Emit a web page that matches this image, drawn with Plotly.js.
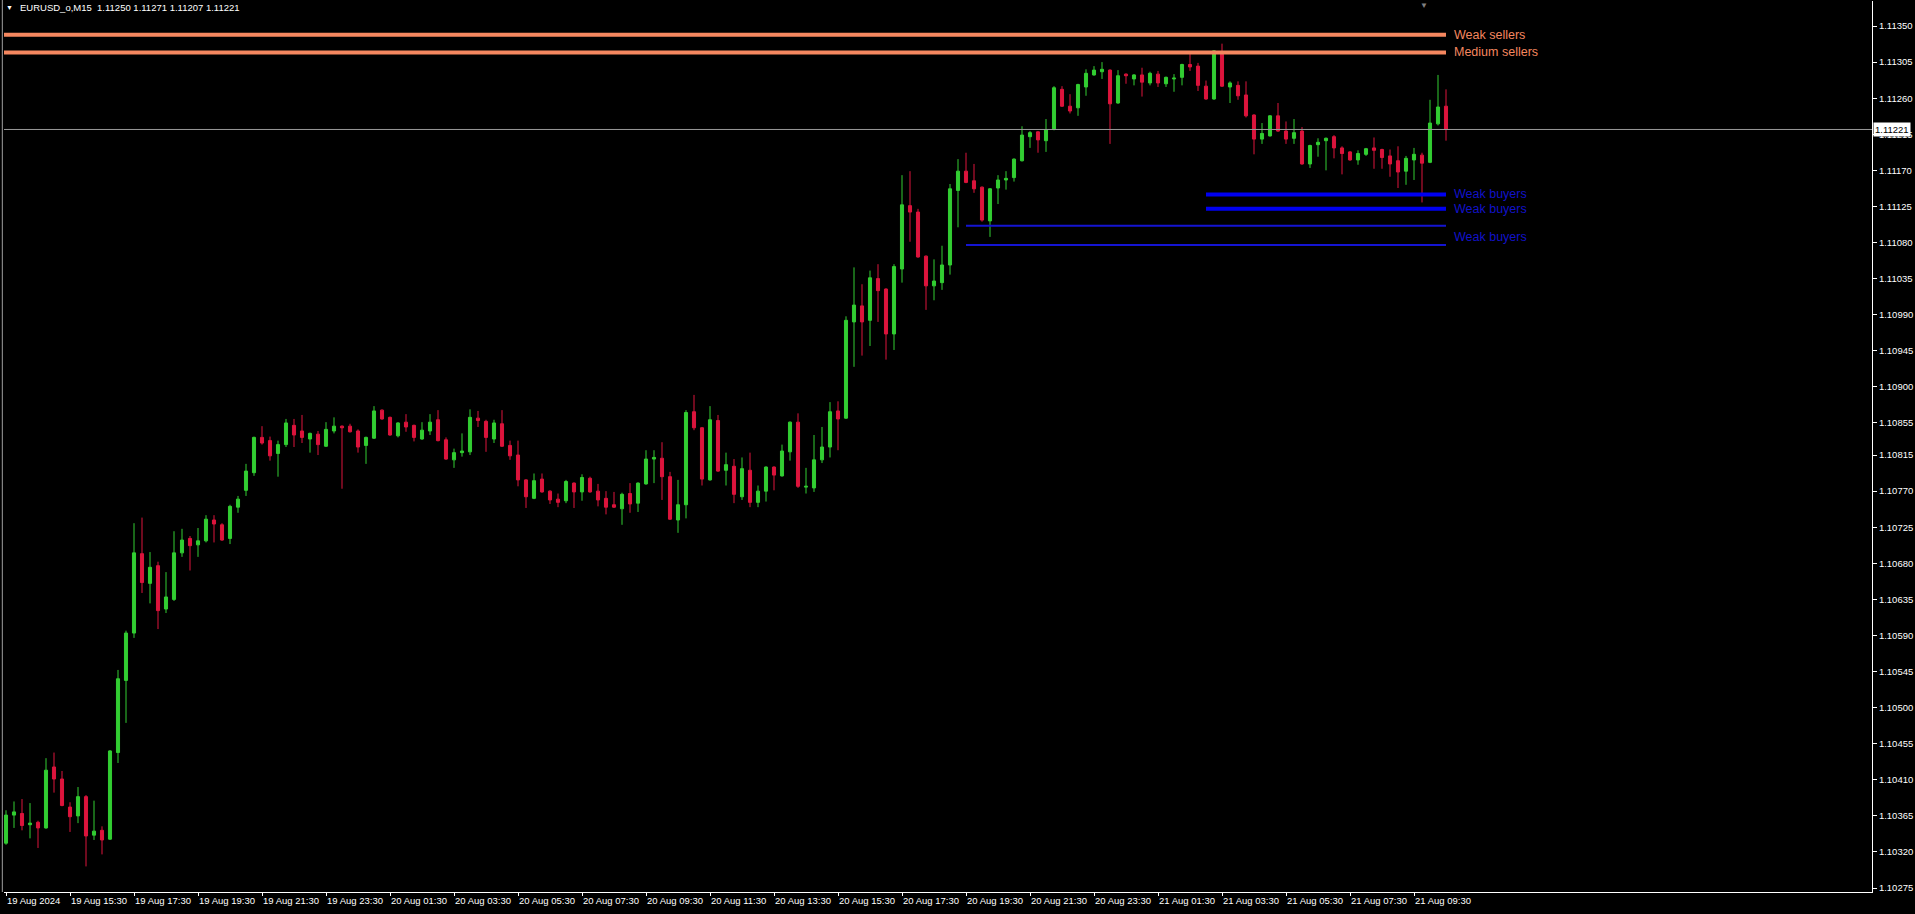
<!DOCTYPE html>
<html>
<head>
<meta charset="utf-8">
<script src="https://cdn.plot.ly/plotly-3.0.1.min.js"></script>
<style>
  html, body { margin: 0; padding: 0; background: #000; }
  #chart { width: 1915px; height: 914px; }
</style>
</head>
<body>
<div id="chart"></div>
<script>
// ---- DATA ----
const symbol = "EURUSD_o";
const timeframe = "M15";

const open = [
1.10331,1.10366,1.10368,1.10354,1.10357,1.10350,1.10426,1.10411,1.10376,1.10365,
1.10389,1.10341,1.10347,1.10336,1.10444,1.10534,1.10593,1.10692,1.10655,1.10677,
1.10623,1.10635,1.10693,1.10711,1.10703,1.10708,1.10734,1.10728,1.10711,1.10750,
1.10771,1.10793,1.10837,1.10833,1.10817,1.10828,1.10852,1.10845,1.10835,1.10841,
1.10826,1.10845,1.10851,1.10851,1.10845,1.10827,1.10836,1.10871,1.10862,1.10839,
1.10856,1.10852,1.10835,1.10845,1.10859,1.10834,1.10809,1.10818,1.10819,1.10861,
1.10857,1.10835,1.10854,1.10827,1.10815,1.10784,1.10761,1.10785,1.10770,1.10760,
1.10758,1.10780,1.10769,1.10786,1.10770,1.10761,1.10753,1.10748,1.10767,1.10755,
1.10779,1.10810,1.10811,1.10788,1.10734,1.10753,1.10869,1.10849,1.10784,1.10858,
1.10796,1.10801,1.10763,1.10796,1.10756,1.10770,1.10800,1.10789,1.10819,1.10856,
1.10775,1.10774,1.10809,1.10825,1.10870,1.10861,1.10981,1.11001,1.10983,1.11035,
1.11022,1.10966,1.11047,1.11126,1.11118,1.11063,1.11026,1.11030,1.11052,1.11145,
1.11169,1.11157,1.11149,1.11107,1.11148,1.11158,1.11161,1.11182,1.11212,1.11218,
1.11207,1.11221,1.11271,1.11250,1.11248,1.11274,1.11289,1.11293,1.11295,1.11254,
1.11290,1.11284,1.11289,1.11279,1.11290,1.11278,1.11284,1.11286,1.11302,1.11300,
1.11275,1.11259,1.11318,1.11274,1.11276,1.11264,1.11239,1.11209,1.11213,1.11238,
1.11219,1.11210,1.11219,1.11178,1.11202,1.11207,1.11212,1.11198,1.11193,1.11183,
1.11190,1.11198,1.11196,1.11188,1.11182,1.11169,1.11183,1.11189,1.11180,1.11228,
1.11250];
const high = [
1.10372,1.10383,1.10386,1.10381,1.10359,1.10437,1.10444,1.10421,1.10382,1.10401,
1.10391,1.10384,1.10352,1.10447,1.10547,1.10596,1.10730,1.10737,1.10694,1.10682,
1.10669,1.10720,1.10723,1.10714,1.10724,1.10740,1.10740,1.10730,1.10753,1.10764,
1.10804,1.10838,1.10851,1.10838,1.10833,1.10860,1.10860,1.10865,1.10843,1.10845,
1.10856,1.10862,1.10852,1.10854,1.10847,1.10838,1.10876,1.10872,1.10863,1.10856,
1.10866,1.10853,1.10856,1.10866,1.10871,1.10837,1.10823,1.10842,1.10872,1.10870,
1.10859,1.10859,1.10871,1.10833,1.10833,1.10785,1.10792,1.10792,1.10771,1.10767,
1.10784,1.10781,1.10791,1.10788,1.10779,1.10770,1.10769,1.10768,1.10780,1.10781,
1.10821,1.10821,1.10831,1.10794,1.10784,1.10871,1.10890,1.10850,1.10876,1.10865,
1.10818,1.10810,1.10812,1.10818,1.10777,1.10801,1.10801,1.10828,1.10857,1.10867,
1.10799,1.10840,1.10850,1.10881,1.10882,1.10988,1.11049,1.11028,1.11045,1.11053,
1.11023,1.11053,1.11164,1.11169,1.11122,1.11064,1.11059,1.11076,1.11153,1.11184,
1.11192,1.11178,1.11150,1.11148,1.11164,1.11169,1.11185,1.11225,1.11219,1.11219,
1.11234,1.11275,1.11275,1.11265,1.11278,1.11296,1.11300,1.11305,1.11296,1.11295,
1.11291,1.11290,1.11298,1.11293,1.11294,1.11287,1.11290,1.11303,1.11315,1.11304,
1.11282,1.11320,1.11328,1.11281,1.11281,1.11281,1.11240,1.11229,1.11239,1.11254,
1.11231,1.11234,1.11224,1.11202,1.11210,1.11211,1.11214,1.11200,1.11194,1.11195,
1.11198,1.11211,1.11197,1.11196,1.11200,1.11188,1.11198,1.11192,1.11258,1.11289,
1.11271];
const low = [
1.10329,1.10350,1.10347,1.10337,1.10325,1.10349,1.10394,1.10377,1.10345,1.10356,
1.10302,1.10335,1.10317,1.10335,1.10431,1.10481,1.10587,1.10643,1.10630,1.10598,
1.10618,1.10633,1.10688,1.10671,1.10688,1.10706,1.10706,1.10708,1.10704,1.10743,
1.10764,1.10789,1.10828,1.10808,1.10788,1.10825,1.10825,1.10830,1.10818,1.10815,
1.10825,1.10842,1.10773,1.10843,1.10818,1.10804,1.10835,1.10859,1.10839,1.10837,
1.10844,1.10832,1.10834,1.10840,1.10832,1.10809,1.10799,1.10813,1.10815,1.10850,
1.10819,1.10830,1.10825,1.10809,1.10776,1.10749,1.10760,1.10768,1.10754,1.10750,
1.10755,1.10749,1.10758,1.10768,1.10751,1.10741,1.10749,1.10728,1.10743,1.10744,
1.10778,1.10780,1.10759,1.10734,1.10718,1.10736,1.10846,1.10777,1.10783,1.10794,
1.10777,1.10755,1.10759,1.10750,1.10750,1.10757,1.10771,1.10788,1.10808,1.10774,
1.10767,1.10769,1.10805,1.10812,1.10821,1.10860,1.10925,1.10939,1.10951,1.10981,
1.10934,1.10946,1.11030,1.11081,1.11061,1.10996,1.11008,1.11021,1.11040,1.11099,
1.11154,1.11142,1.11106,1.11087,1.11128,1.11146,1.11156,1.11181,1.11198,1.11192,
1.11193,1.11220,1.11249,1.11241,1.11238,1.11263,1.11288,1.11284,1.11203,1.11253,
1.11278,1.11276,1.11262,1.11276,1.11274,1.11274,1.11268,1.11276,1.11294,1.11269,
1.11258,1.11258,1.11274,1.11254,1.11258,1.11236,1.11190,1.11203,1.11212,1.11218,
1.11203,1.11203,1.11177,1.11173,1.11187,1.11170,1.11185,1.11165,1.11182,1.11177,
1.11188,1.11172,1.11172,1.11162,1.11148,1.11152,1.11158,1.11130,1.11179,1.11226,
1.11207];
const close = [
1.10366,1.10370,1.10353,1.10356,1.10350,1.10422,1.10411,1.10378,1.10364,1.10389,
1.10340,1.10346,1.10335,1.10446,1.10536,1.10593,1.10693,1.10656,1.10675,1.10621,
1.10638,1.10693,1.10709,1.10702,1.10708,1.10735,1.10729,1.10709,1.10751,1.10760,
1.10795,1.10837,1.10830,1.10814,1.10828,1.10855,1.10840,1.10837,1.10842,1.10828,
1.10847,1.10851,1.10849,1.10844,1.10825,1.10837,1.10870,1.10860,1.10840,1.10855,
1.10850,1.10837,1.10846,1.10856,1.10833,1.10810,1.10818,1.10820,1.10862,1.10858,
1.10837,1.10855,1.10826,1.10814,1.10784,1.10763,1.10783,1.10769,1.10759,1.10756,
1.10782,1.10769,1.10787,1.10769,1.10759,1.10750,1.10750,1.10766,1.10754,1.10780,
1.10810,1.10812,1.10788,1.10735,1.10753,1.10868,1.10849,1.10785,1.10859,1.10795,
1.10803,1.10766,1.10798,1.10756,1.10770,1.10800,1.10790,1.10820,1.10856,1.10776,
1.10776,1.10809,1.10825,1.10869,1.10860,1.10983,1.11002,1.10981,1.11036,1.11020,
1.10966,1.11050,1.11127,1.11118,1.11062,1.11026,1.11032,1.11052,1.11147,1.11169,
1.11155,1.11147,1.11108,1.11147,1.11158,1.11160,1.11184,1.11214,1.11217,1.11208,
1.11221,1.11273,1.11250,1.11244,1.11277,1.11291,1.11295,1.11296,1.11253,1.11288,
1.11288,1.11289,1.11280,1.11291,1.11279,1.11286,1.11285,1.11302,1.11299,1.11276,
1.11259,1.11319,1.11275,1.11279,1.11263,1.11238,1.11209,1.11216,1.11238,1.11219,
1.11209,1.11217,1.11178,1.11201,1.11205,1.11210,1.11198,1.11191,1.11183,1.11191,
1.11197,1.11195,1.11186,1.11178,1.11168,1.11185,1.11190,1.11179,1.11229,1.11249,
1.11221];

// time-axis labels and the bar index they belong to
const xTickBars = [0,8,16,24,32,40,48,56,64,72,80,88,96,104,112,120,128,136,144,152,160,168,176];
const xTickLabels = [
  "19 Aug 2024","19 Aug 15:30","19 Aug 17:30","19 Aug 19:30","19 Aug 21:30","19 Aug 23:30",
  "20 Aug 01:30","20 Aug 03:30","20 Aug 05:30","20 Aug 07:30","20 Aug 09:30","20 Aug 11:30",
  "20 Aug 13:30","20 Aug 15:30","20 Aug 17:30","20 Aug 19:30","20 Aug 21:30","20 Aug 23:30",
  "21 Aug 01:30","21 Aug 03:30","21 Aug 05:30","21 Aug 07:30","21 Aug 09:30"];

// price-axis labels
const priceTicks = [1.11350,1.11305,1.11260,1.11215,1.11170,1.11125,1.11080,1.11035,1.10990,
  1.10945,1.10900,1.10855,1.10815,1.10770,1.10725,1.10680,1.10635,1.10590,1.10545,1.10500,
  1.10455,1.10410,1.10365,1.10320,1.10275];

// supply / demand zone lines
const zoneKind  = ["sell","sell","buy","buy","buyThin","buyThin"];
const zonePrice = [1.11339, 1.11317, 1.11140, 1.11122, 1.11101, 1.11077];
const zoneStart = [-5, -5, 150, 150, 120, 120];
const zoneEnd   = [180, 180, 180, 180, 180, 180];

const zoneLabelText  = ["Weak sellers","Medium sellers","Weak buyers","Weak buyers","Weak buyers"];
const zoneLabelKind  = ["sell","sell","buy","buy","buy"];
const zoneLabelPrice = [1.11339, 1.11317, 1.11140, 1.11122, 1.11087];
const zoneLabelBar   = [180.8, 180.8, 180.8, 180.8, 180.8];

// ---- STYLE ----
const FONT = '"Liberation Sans", Arial, sans-serif';
const bull = "#32CD32", bear = "#DC143C";
const zoneStyle = {
  sell:    {color: "#F5875F", width: 4},
  buy:     {color: "#0000F0", width: 4},
  buyThin: {color: "#1414D2", width: 2}
};
const labelColor = {sell: "#F5875F", buy: "#1212C8"};

const n = open.length;
const xs = open.map((_, i) => i);
const last = n - 1;

const traces = [];
traces.push({
  type: "candlestick",
  x: xs, open: open, high: high, low: low, close: close,
  increasing: {line: {color: bull, width: 1}, fillcolor: bull},
  decreasing: {line: {color: bear, width: 1}, fillcolor: bear},
  whiskerwidth: 0,
  hoverinfo: "skip",
  showlegend: false
});

zonePrice.forEach((p, k) => {
  traces.push({
    type: "scatter", mode: "lines",
    x: [zoneStart[k], zoneEnd[k]], y: [p, p],
    line: {color: zoneStyle[zoneKind[k]].color, width: zoneStyle[zoneKind[k]].width},
    hoverinfo: "skip", showlegend: false
  });
});

const annotations = [];
zoneLabelText.forEach((t, k) => {
  annotations.push({
    xref: "x", yref: "y", x: zoneLabelBar[k], y: zoneLabelPrice[k],
    text: t, showarrow: false, xanchor: "left", yanchor: "middle",
    font: {family: FONT, size: 12.5, color: labelColor[zoneLabelKind[k]]}
  });
});

// current price label on the axis
annotations.push({
  xref: "paper", yref: "y", x: 1, y: close[last], xanchor: "left", yanchor: "middle",
  xshift: 1, text: close[last].toFixed(5), showarrow: false,
  bgcolor: "#ffffff", borderpad: 1,
  font: {family: FONT, size: 9.5, color: "#000000"}
});

// header
annotations.push({
  xref: "paper", yref: "paper", x: 0, y: 1, xanchor: "left", yanchor: "top",
  xshift: 0, yshift: -1, showarrow: false, text: "▼",
  font: {family: FONT, size: 7, color: "#ffffff"}
});
annotations.push({
  xref: "paper", yref: "paper", x: 0, y: 1, xanchor: "left", yanchor: "top",
  xshift: 14, yshift: 1, showarrow: false,
  text: symbol + "," + timeframe + "\u00a0\u00a0" + [open[last], high[last], low[last], close[last]].map(v => v.toFixed(5)).join(" "),
  font: {family: FONT, size: 9.5, color: "#ffffff"}
});
// chart-shift marker
annotations.push({
  xref: "paper", yref: "paper", x: 0.7602, y: 1, xanchor: "center", yanchor: "top",
  yshift: 2, showarrow: false, text: "▼",
  font: {family: FONT, size: 8, color: "#808080"}
});

const shapes = [
  // bid line
  {type: "line", xref: "paper", yref: "y", x0: 0, x1: 1, y0: close[last], y1: close[last],
   line: {color: "#9a9a9a", width: 1}},
  // left frame
  {type: "line", xref: "paper", yref: "paper", x0: -0.0009, x1: -0.0009, y0: 0, y1: 1.002,
   line: {color: "#a0a0a0", width: 1}}
];

const layout = {
  width: 1915, height: 914,
  paper_bgcolor: "#000000", plot_bgcolor: "#000000",
  margin: {l: 4, r: 43, t: 1, b: 22, pad: 0},
  showlegend: false,
  boxgap: 0.45,
  xaxis: {
    range: [-0.25, 233.25], type: "linear",
    showgrid: false, zeroline: false,
    showline: true, linecolor: "#ffffff", linewidth: 1,
    ticks: "outside", ticklen: 3, tickcolor: "#ffffff", tickwidth: 1,
    tickvals: xTickBars, ticktext: xTickLabels,
    tickangle: 0,
    ticklabelposition: "outside right",
    tickfont: {family: FONT, size: 9.5, color: "#ffffff"},
    rangeslider: {visible: false},
    fixedrange: true
  },
  yaxis: {
    side: "right",
    range: [1.102701, 1.113812],
    showgrid: false, zeroline: false,
    showline: true, linecolor: "#ffffff", linewidth: 1,
    ticks: "outside", ticklen: 4, tickcolor: "#ffffff", tickwidth: 1,
    tickvals: priceTicks, ticktext: priceTicks.map(v => v.toFixed(5)),
    tickfont: {family: FONT, size: 9.5, color: "#ffffff"},
    fixedrange: true
  },
  annotations: annotations,
  shapes: shapes
};

Plotly.newPlot("chart", traces, layout, {displayModeBar: false, staticPlot: true});
</script>
</body>
</html>
